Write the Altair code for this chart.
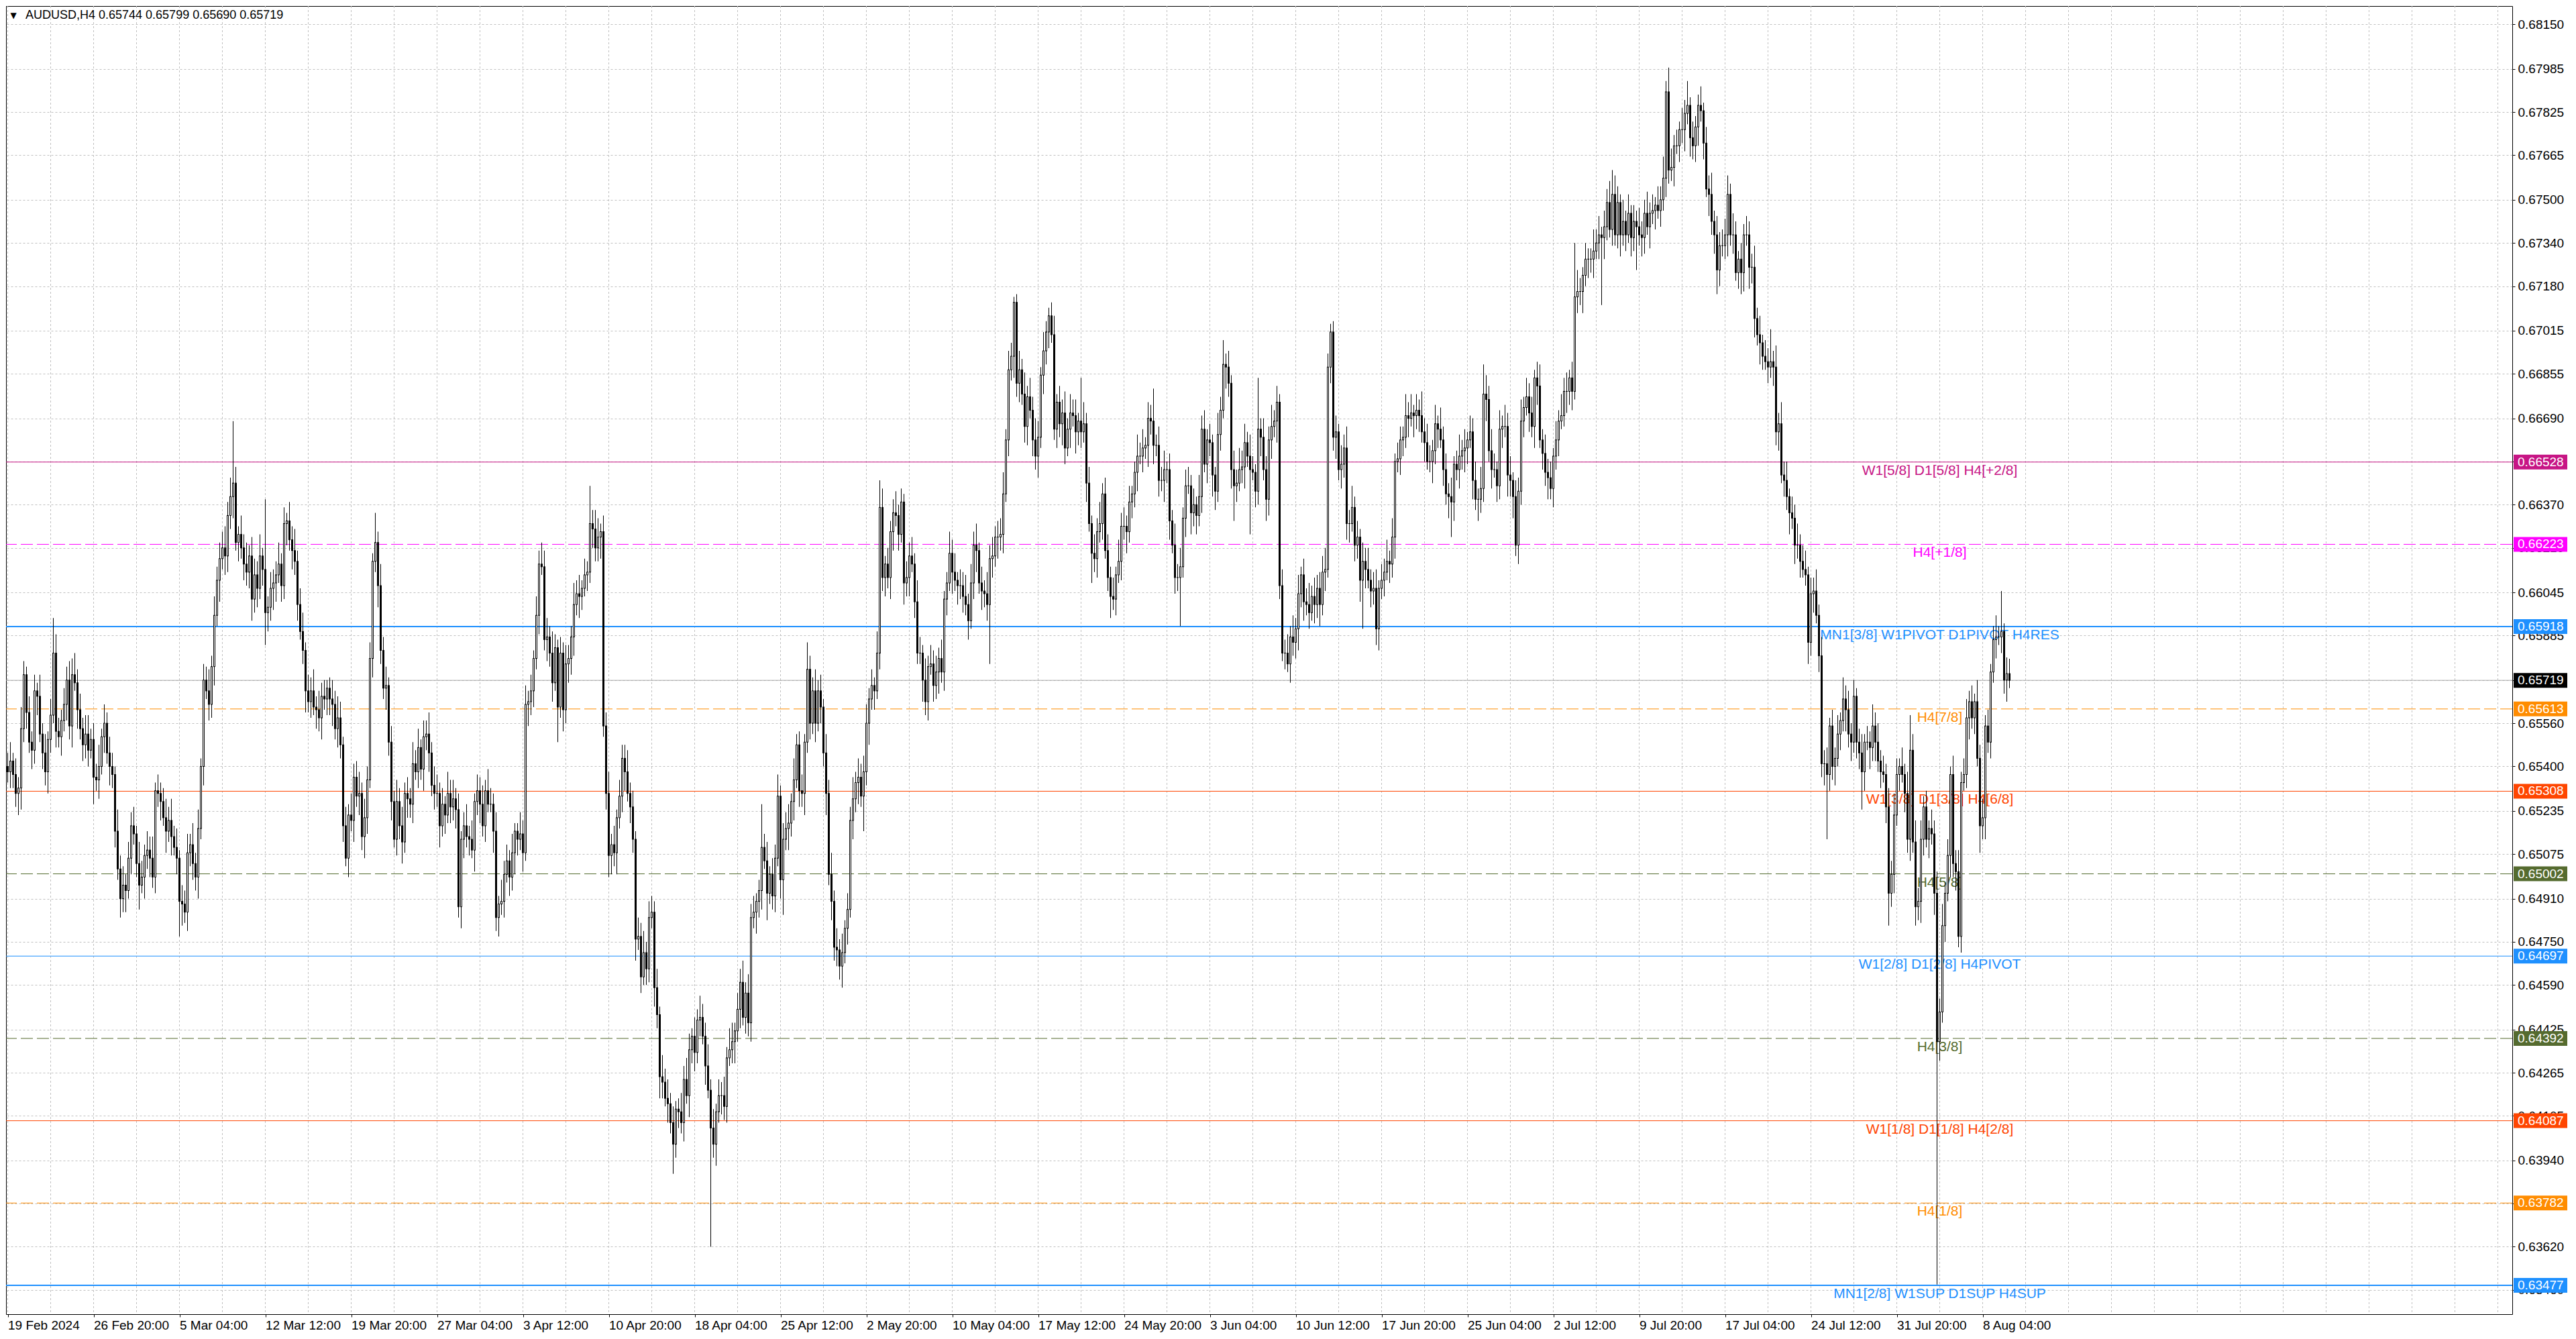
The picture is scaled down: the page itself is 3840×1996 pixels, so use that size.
import altair as alt
import pandas as pd

# AUDUSD H4, 19 Feb 2024 .. 9 Aug 2024, prices in pips (price * 10000)
first_open = 6540

closes_a = [
    6538, 6542, 6537, 6530, 6532, 6554, 6574, 6560, 6549, 6546,
    6568, 6566, 6552, 6545, 6538, 6550, 6559, 6582, 6553, 6551,
    6557, 6563, 6572, 6555, 6574, 6571, 6561, 6554, 6548, 6552,
    6546, 6550, 6536, 6535, 6540, 6551, 6556, 6545, 6540, 6537,
    6516, 6502, 6491, 6496, 6494, 6506, 6518, 6515, 6504, 6496,
    6499, 6507, 6509, 6506, 6499, 6531, 6530, 6527, 6521, 6516,
    6520, 6514, 6510, 6506, 6490, 6489, 6486, 6508, 6511, 6504,
    6499, 6517, 6540, 6572, 6568, 6563, 6577, 6596, 6609, 6617,
    6621, 6618, 6633, 6640, 6645, 6623, 6626, 6621, 6615, 6612,
    6618, 6602, 6611, 6606, 6618, 6613, 6597, 6599, 6606, 6608,
    6611, 6615, 6607, 6630, 6631, 6624, 6620, 6616, 6600, 6590,
    6583, 6568, 6564, 6568, 6562, 6561, 6558, 6566, 6565, 6569,
    6565, 6563, 6554, 6558, 6548, 6518, 6506, 6522, 6520, 6536,
    6529, 6530, 6514, 6521, 6535, 6580, 6616, 6623, 6607, 6583,
    6569, 6570, 6549, 6527, 6513, 6527, 6518, 6512, 6530, 6528,
]
closes_b = [
    6526, 6541, 6538, 6547, 6539, 6551, 6552, 6545, 6533, 6530,
    6530, 6518, 6526, 6522, 6530, 6525, 6528, 6524, 6488, 6513,
    6518, 6514, 6513, 6509, 6527, 6531, 6526, 6518, 6531, 6526,
    6526, 6516, 6484, 6489, 6490, 6500, 6505, 6499, 6508, 6516,
    6513, 6515, 6508, 6563, 6564, 6568, 6580, 6596, 6615, 6614,
    6587, 6588, 6582, 6571, 6584, 6562, 6582, 6561, 6578, 6580,
    6588, 6600, 6604, 6603, 6606, 6611, 6612, 6630, 6628, 6621,
    6625, 6627, 6555, 6530, 6507, 6511, 6508, 6521, 6529, 6543,
    6538, 6530, 6525, 6513, 6476, 6477, 6462, 6471, 6465, 6484,
    6486, 6458, 6448, 6425, 6423, 6417, 6415, 6408, 6400, 6413,
    6412, 6408, 6424, 6418, 6435, 6440, 6434, 6446, 6447, 6440,
    6429, 6420, 6406, 6400, 6412, 6418, 6418, 6414, 6432, 6435,
    6438, 6442, 6450, 6460, 6447, 6456, 6445, 6484, 6486, 6490,
    6494, 6510, 6505, 6493, 6500, 6492, 6506, 6529, 6498, 6513,
    6517, 6519, 6527, 6535, 6548, 6531, 6530, 6549, 6576, 6556,
]
closes_c = [
    6568, 6556, 6568, 6562, 6545, 6530, 6500, 6490, 6473, 6472,
    6466, 6471, 6480, 6487, 6520, 6528, 6534, 6536, 6529, 6538,
    6556, 6565, 6570, 6568, 6582, 6636, 6610, 6615, 6610, 6627,
    6634, 6633, 6626, 6638, 6608, 6610, 6618, 6615, 6601, 6582,
    6582, 6572, 6564, 6577, 6578, 6570, 6575, 6580, 6575, 6602,
    6608, 6619, 6612, 6609, 6607, 6607, 6603, 6600, 6594, 6608,
    6622, 6620, 6608, 6605, 6604, 6600, 6617, 6618, 6625, 6625,
    6626, 6641, 6661, 6687, 6692, 6712, 6682, 6687, 6678, 6666,
    6677, 6672, 6661, 6655, 6662, 6685, 6694, 6701, 6707, 6700,
    6665, 6675, 6667, 6671, 6658, 6665, 6671, 6670, 6664, 6668,
    6664, 6667, 6645, 6630, 6619, 6617, 6627, 6630, 6641, 6620,
    6610, 6603, 6602, 6611, 6616, 6629, 6629, 6627, 6638, 6641,
    6649, 6655, 6655, 6658, 6659, 6669, 6668, 6659, 6659, 6646,
    6646, 6650, 6650, 6631, 6622, 6610, 6610, 6614, 6632, 6644,
    6644, 6634, 6637, 6633, 6640, 6665, 6652, 6661, 6660, 6648,
]
closes_d = [
    6642, 6663, 6672, 6689, 6688, 6682, 6650, 6644, 6645, 6650,
    6651, 6660, 6655, 6650, 6649, 6642, 6665, 6662, 6650, 6639,
    6661, 6666, 6668, 6675, 6607, 6582, 6582, 6578, 6588, 6586,
    6591, 6604, 6611, 6601, 6600, 6597, 6603, 6600, 6606, 6600,
    6612, 6613, 6688, 6701, 6662, 6664, 6650, 6652, 6658, 6630,
    6630, 6636, 6622, 6625, 6609, 6616, 6613, 6609, 6605, 6606,
    6591, 6606, 6609, 6612, 6616, 6615, 6625, 6653, 6654, 6661,
    6662, 6670, 6669, 6671, 6670, 6672, 6670, 6664, 6660, 6653,
    6653, 6657, 6667, 6665, 6661, 6650, 6641, 6640, 6638, 6652,
    6650, 6655, 6657, 6658, 6661, 6664, 6646, 6639, 6639, 6643,
    6678, 6676, 6657, 6650, 6650, 6644, 6665, 6666, 6666, 6648,
    6646, 6640, 6622, 6642, 6668, 6673, 6677, 6671, 6666, 6684,
    6681, 6661, 6656, 6649, 6647, 6643, 6655, 6661, 6668, 6670,
    6679, 6679, 6684, 6679, 6714, 6716, 6716, 6722, 6728, 6728,
    6728, 6731, 6734, 6737, 6736, 6740, 6749, 6739, 6752, 6737,
]
closes_e = [
    6749, 6737, 6742, 6737, 6745, 6736, 6742, 6740, 6737, 6736,
    6745, 6740, 6745, 6746, 6748, 6746, 6750, 6758, 6790, 6761,
    6762, 6770, 6770, 6776, 6776, 6782, 6785, 6773, 6770, 6777,
    6785, 6783, 6771, 6754, 6752, 6742, 6737, 6724, 6733, 6733,
    6737, 6752, 6737, 6737, 6723, 6728, 6723, 6737, 6737, 6725,
    6725, 6706, 6700, 6697, 6692, 6690, 6688, 6690, 6688, 6664,
    6667, 6648, 6646, 6640, 6634, 6632, 6622, 6622, 6616, 6613,
    6611, 6586, 6604, 6605, 6596, 6581, 6541, 6541, 6537, 6555,
    6540, 6543, 6552, 6557, 6565, 6561, 6552, 6549, 6566, 6549,
    6545, 6538, 6549, 6549, 6547, 6555, 6549, 6542, 6538, 6537,
    6525, 6493, 6500, 6522, 6537, 6540, 6537, 6530, 6513, 6546,
    6512, 6488, 6490, 6513, 6525, 6513, 6517, 6515, 6493, 6438,
    6449, 6481, 6493, 6507, 6537, 6504, 6501, 6477, 6534, 6537,
    6558, 6564, 6558, 6564, 6543, 6518, 6521, 6555, 6549, 6575,
    6587, 6588, 6588, 6590, 6572, 6574.4, 6571.9,
]

# upper / lower shadow length of each bar in pips, one digit per bar
up_wicks = (
    "5736485364 6384736475 4657385647 7465837465 3857465738 6475836457 5847365748 4736584756 "
    "6857463758 4765837465 5846375846 7365847563 4758637485 6847563748 5736485746 4857365847 "
    "7463857463 5847365748 6473856473 3857463758 6748536475 4857364857 7365847365 5846375846 "
    "6473857463 4758637485 5847365748 7365847563 4857365846 6738456375 5846375847 4736584756 "
    "7463857364 5847365748 6384756473 4857365847 5736485746 6847563748 4758637485 7365847563 "
    "5846375846 6473857463 4857365847 5736485746 7463857463 3857463758 6748536475 5847365748 "
    "4736584756 6857463758 5846375846 7365847365 4857364857 6473856473 5847365748 4758637485 "
    "7365847563 6847563748 5736485364 4857365847 6384736475 5846375847 7463857364 4736584756 "
    "6748536475 5847365748 4857365846 7365847563 6473857463 5736485746 4758637485 6857463758 "
    "5846375846 7463857463 5847365"
)
dn_wicks = (
    "4657385647 5736485364 7465837465 6384736475 6475836457 3857465738 4736584756 5847365748 "
    "4765837465 6857463758 7365847563 5846375846 6847563748 4758637485 4857365847 5736485746 "
    "5847365748 7463857463 3857463758 6473856473 4857364857 6748536475 5846375846 7365847365 "
    "4758637485 6473857463 7365847563 5847365748 6738456375 4857365846 4736584756 5846375847 "
    "5847365748 7463857364 4857365847 6384756473 6847563748 5736485746 7365847563 4758637485 "
    "6473857463 5846375846 5736485746 4857365847 3857463758 7463857463 5847365748 6748536475 "
    "6857463758 4736584756 7365847365 5846375846 6473856473 4857364857 4758637485 5847365748 "
    "6847563748 7365847563 4857365847 5736485364 5846375847 6384736475 4736584756 7463857364 "
    "5847365748 6748536475 7365847563 4857365846 5736485746 6473857463 6857463758 4758637485 "
    "7463857463 5846375846 4736584"
)

# extremes read for bars whose shadows stand out (bar index: price in pips)
spike_highs = {
    17: 6595, 24: 6580, 84: 6668, 96: 6639, 137: 6634, 217: 6644, 281: 6526, 298: 6586,
    325: 6646, 333: 6643, 361: 6630, 375: 6714, 388: 6710, 400: 6684, 427: 6680, 453: 6698,
    466: 6684, 473: 6681, 493: 6704, 527: 6679, 550: 6689, 584: 6734, 598: 6761, 619: 6799,
    626: 6794, 657: 6702, 709: 6559, 743: 6605, 746: 6579.9,
}
spike_lows = {
    3: 6525, 4: 6522, 14: 6533, 32: 6526, 49: 6487, 64: 6477, 96: 6585, 205: 6549,
    224: 6499, 236: 6456, 248: 6389, 262: 6362, 283: 6483, 289: 6485, 319: 6516, 366: 6578,
    404: 6608, 411: 6595, 437: 6592, 457: 6631, 463: 6626, 477: 6575, 505: 6591, 510: 6585,
    538: 6625, 594: 6711, 607: 6724, 637: 6715, 646: 6715, 678: 6513, 691: 6524, 701: 6481,
    719: 6348, 735: 6508, 746: 6569,
}

date_labels = [
    "19 Feb 2024", "26 Feb 20:00", "5 Mar 04:00", "12 Mar 12:00", "19 Mar 20:00", "27 Mar 04:00",
    "3 Apr 12:00", "10 Apr 20:00", "18 Apr 04:00", "25 Apr 12:00", "2 May 20:00", "10 May 04:00",
    "17 May 12:00", "24 May 20:00", "3 Jun 04:00", "10 Jun 12:00", "17 Jun 20:00", "25 Jun 04:00",
    "2 Jul 12:00", "9 Jul 20:00", "17 Jul 04:00", "24 Jul 12:00", "31 Jul 20:00", "8 Aug 04:00",
]
y_ticks = [
    0.68150, 0.67985, 0.67825, 0.67665, 0.67500, 0.67340, 0.67180, 0.67015, 0.66855, 0.66690,
    0.66530, 0.66370, 0.66210, 0.66045, 0.65885, 0.65720, 0.65560, 0.65400, 0.65235, 0.65075,
    0.64910, 0.64750, 0.64590, 0.64425, 0.64265, 0.64105, 0.63940, 0.63780, 0.63620, 0.63460,
]

level_prices = [0.66528, 0.66223, 0.65918, 0.65613, 0.65308, 0.65002,
                0.64697, 0.64392, 0.64087, 0.63782, 0.63477]
level_labels = [
    "W1[5/8] D1[5/8] H4[+2/8]", "H4[+1/8]", "MN1[3/8] W1PIVOT D1PIVOT H4RES", "H4[7/8]",
    "W1[3/8] D1[3/8] H4[6/8]", "H4[5/8]", "W1[2/8] D1[2/8] H4PIVOT", "H4[3/8]",
    "W1[1/8] D1[1/8] H4[2/8]", "H4[1/8]", "MN1[2/8] W1SUP D1SUP H4SUP",
]
label_bar = 720

# styles of the level lines, in the order of level_labels
level_colors = ["#C71585", "#FF00FF", "#1E90FF", "#FF8C00", "#FF4500", "#556B2F",
                "#1E90FF", "#556B2F", "#FF4500", "#FF8C00", "#1E90FF"]
SOLID, DASH = [1, 0], [18, 6]
level_dash = [SOLID, DASH, SOLID, DASH, SOLID, DASH, SOLID, DASH, SOLID, DASH, SOLID]

FONT = "Liberation Sans"
W, H = 3736, 1950
x_dom = [-0.625, 933.375]   # 4 px per bar, candle edges on whole pixels
y_dom = [0.63370, 0.68218]

# ---- build the bars ----
closes = closes_a + closes_b + closes_c + closes_d + closes_e
up = [int(ch) for ch in up_wicks if ch.isdigit()]
dn = [int(ch) for ch in dn_wicks if ch.isdigit()]
rows = []
prev = first_open
for i, c in enumerate(closes):
    o = prev
    hi = max(spike_highs.get(i, max(o, c) + up[i]), max(o, c))
    lo = min(spike_lows.get(i, min(o, c) - dn[i]), min(o, c))
    rows.append({"bar": i, "open": o / 1e4, "close": c / 1e4, "high": hi / 1e4, "low": lo / 1e4})
    prev = c
bars = pd.DataFrame(rows)
last = rows[-1]

xs = alt.Scale(domain=x_dom, nice=False, zero=False)
ys = alt.Scale(domain=y_dom, nice=False, zero=False)

label_expr = "[" + ",".join("'%s'" % s for s in date_labels) + "][round(datum.value / 32)]"
x_axis = alt.Axis(values=[32 * k for k in range(len(date_labels))], labelExpr=label_expr,
                  title=None, grid=False, domain=False, tickSize=4, tickColor="black",
                  labelAlign="left", labelBaseline="top", labelPadding=3, labelFont=FONT,
                  labelFontSize=19, labelColor="black", labelOverlap=False, labelFlush=False)
y_axis = alt.Axis(orient="right", values=y_ticks, format=".5f", title=None, grid=True,
                  gridColor="#c0c0c0", gridDash=[3, 3], domain=False, tickSize=4,
                  tickColor="black", labelPadding=4, labelFont=FONT, labelFontSize=19,
                  labelColor="black", labelOverlap=False, labelFlush=False)


def X(field):
    return alt.X(field, scale=xs, axis=x_axis)


def Y(field):
    return alt.Y(field, scale=ys, axis=y_axis)


vgrid = alt.Chart(pd.DataFrame({"bar": list(range(0, 934, 16))})).mark_rule(
    color="#c0c0c0", strokeDash=[3, 3], strokeWidth=1
).encode(x=X("bar:Q"))

levels = pd.DataFrame({"price": level_prices, "label": level_labels, "bar": label_bar})
half = 11 * (y_dom[1] - y_dom[0]) / H
levels["top"] = levels["price"] + half
levels["bot"] = levels["price"] - half
cscale = alt.Scale(domain=level_labels, range=level_colors)
dscale = alt.Scale(domain=level_labels, range=level_dash)

lines = alt.Chart(levels).mark_rule(strokeWidth=1).encode(
    y=Y("price:Q"),
    color=alt.Color("label:N", scale=cscale, legend=None),
    strokeDash=alt.StrokeDash("label:N", scale=dscale, legend=None),
)
thick = alt.Chart(levels).transform_filter("indexof(datum.label, 'MN1') == 0").mark_rule(
    strokeWidth=2
).encode(
    y=Y("price:Q"),
    color=alt.Color("label:N", scale=cscale, legend=None),
)

cur = pd.DataFrame({"price": [last["close"]]})
cur["top"] = cur["price"] + half
cur["bot"] = cur["price"] - half
cur_line = alt.Chart(cur).mark_rule(color="#a8a8a8", strokeWidth=1).encode(y=Y("price:Q"))

level_text = alt.Chart(levels).mark_text(
    font=FONT, fontSize=21, align="center", baseline="top", dy=2
).encode(
    x=X("bar:Q"),
    y=Y("price:Q"),
    text="label:N",
    color=alt.Color("label:N", scale=cscale, legend=None),
)

candles = alt.Chart(bars).transform_calculate(
    body_top="max(datum.open, datum.close)",
    body_bot="min(datum.open, datum.close)",
    wl="datum.bar - 0.125", wr="datum.bar + 0.125",
    bl="datum.bar - 0.375", br="datum.bar + 0.375",
)
wicks = candles.mark_rect(color="black").encode(
    x=X("wl:Q"), x2="wr:Q", y=Y("low:Q"), y2="high:Q",
)
bodies = candles.mark_rect(color="black", yOffset=-0.5, y2Offset=0.5).encode(
    x=X("bl:Q"), x2="br:Q", y=Y("body_top:Q"), y2="body_bot:Q",
)
hollow = candles.transform_filter("datum.close - datum.open > 0.00008").mark_rect(
    color="white", yOffset=0.5, y2Offset=-0.5
).encode(
    x=X("wl:Q"), x2="wr:Q", y=Y("close:Q"), y2="open:Q",
)

boxes = alt.Chart(levels).mark_rect().encode(
    x=alt.value(W + 2), x2=alt.value(W + 82),
    y=Y("top:Q"), y2="bot:Q",
    color=alt.Color("label:N", scale=cscale, legend=None),
)
box_text = alt.Chart(levels).mark_text(
    font=FONT, fontSize=19, align="left", baseline="middle", color="white"
).encode(
    x=alt.value(W + 8),
    y=Y("price:Q"),
    text=alt.Text("price:Q", format=".5f"),
)
cur_box = alt.Chart(cur).mark_rect(color="black").encode(
    x=alt.value(W + 2), x2=alt.value(W + 82),
    y=Y("top:Q"), y2="bot:Q",
)
cur_text = alt.Chart(cur).mark_text(
    font=FONT, fontSize=19, align="left", baseline="middle", color="white"
).encode(
    x=alt.value(W + 8),
    y=Y("price:Q"),
    text=alt.Text("price:Q", format=".5f"),
)

header = "AUDUSD,H4  " + " ".join(
    "%.5f" % v for v in (last["open"], last["high"], last["low"], last["close"])
)
head = alt.Chart(pd.DataFrame({"t": [header]})).mark_text(
    font=FONT, fontSize=18, align="left", baseline="middle", color="black"
).encode(x=alt.value(29), y=alt.value(14), text="t:N")
arrow = alt.Chart(pd.DataFrame({"t": ["\u25bc"]})).mark_text(
    font="DejaVu Sans", fontSize=12, align="center", baseline="middle", color="black"
).encode(x=alt.value(11), y=alt.value(14), text="t:N")

chart = alt.layer(
    vgrid, lines, thick, cur_line, level_text, wicks, bodies, hollow,
    boxes, box_text, cur_box, cur_text, head, arrow,
).properties(
    width=W,
    height=H,
    padding={"left": 0, "top": 0, "right": 4, "bottom": 4},
    background="white",
).configure_view(stroke="black", strokeWidth=1, fill="white")

chart.save("out.html", embed_options={"renderer": "svg", "actions": False})
